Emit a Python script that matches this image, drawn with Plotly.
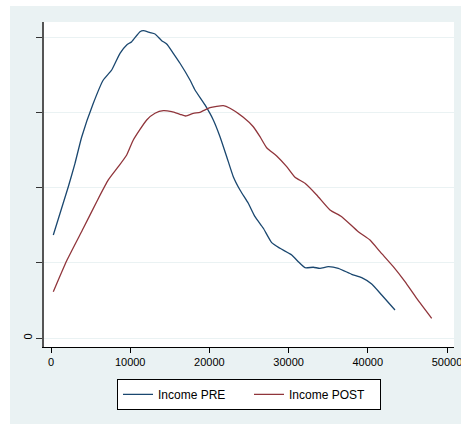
import plotly.graph_objects as go

# Kernel density estimates of income, before and after (density in units of 1e-5)
income_pre = [290, 2184, 3030, 3876, 5341, 6603, 7664, 8712, 9558, 10189,
              11237, 11654, 12500, 13131, 13977, 14608, 15442, 16288, 17550, 18182,
              19444, 20492, 21338, 22184, 23017, 23863, 24911, 25757, 26805, 27866,
              28914, 30391, 31225, 32070, 33118, 33964, 35012, 36275, 37967, 39229,
              40492, 41755, 43433]
density_pre = [1.373, 2.017, 2.329, 2.68, 3.129, 3.44, 3.573, 3.796, 3.907, 3.951,
               4.084, 4.097, 4.071, 4.053, 3.964, 3.92, 3.796, 3.663, 3.44, 3.307,
               3.107, 2.907, 2.684, 2.417, 2.151, 1.973, 1.796, 1.617, 1.463, 1.271,
               1.196, 1.107, 1.017, 0.937, 0.943, 0.929, 0.951, 0.929, 0.849, 0.804,
               0.72, 0.573, 0.373]

income_post = [290, 1982, 4078, 5770, 7235, 8497, 9558, 10391, 12083, 13131,
               14179, 15240, 16288, 17007, 17967, 18813, 20075, 21755, 22600, 24280,
               25543, 26389, 27235, 28497, 29760, 30808, 32070, 33548, 35227, 36704,
               38800, 40277, 41540, 43219, 44696, 46173, 48068]
density_post = [0.617, 1.03, 1.463, 1.817, 2.107, 2.284, 2.44, 2.64, 2.907, 2.996,
                3.031, 3.017, 2.983, 2.96, 2.996, 3.009, 3.071, 3.097, 3.063, 2.943,
                2.817, 2.684, 2.537, 2.427, 2.284, 2.143, 2.063, 1.907, 1.707, 1.617,
                1.417, 1.307, 1.151, 0.951, 0.751, 0.529, 0.263]

x_ticks = [0, 10000, 20000, 30000, 40000, 50000]
x_tick_labels = ["0", "10000", "20000", "30000", "40000", "50000"]
y_ticks = [0, 1, 2, 3, 4]
y_tick_labels = ["0", "", "", "", ""]

BG = "#EAF2F3"
FONT = "Liberation Sans, Arial, sans-serif"

fig = go.Figure()
fig.add_trace(go.Scatter(x=income_pre, y=density_pre, mode="lines", name="Income PRE",
                         line=dict(color="#1A476F", width=1.3, shape="spline", smoothing=0.5)))
fig.add_trace(go.Scatter(x=income_post, y=density_post, mode="lines", name="Income POST",
                         line=dict(color="#90353B", width=1.3, shape="spline", smoothing=0.5)))

fig.update_layout(
    width=461, height=424,
    margin=dict(l=44, r=7, t=22, b=77),
    paper_bgcolor=BG, plot_bgcolor="white",
    font=dict(family=FONT, size=11, color="#000"),
    showlegend=True,
    legend=dict(orientation="h", x=0.5, xanchor="center", y=-0.098, yanchor="top",
                bgcolor="white", bordercolor="#000", borderwidth=1,
                font=dict(size=12), entrywidth=86),
    xaxis=dict(range=[-884, 50884], tickvals=x_ticks, ticktext=x_tick_labels,
               showgrid=False, zeroline=False, showline=True, linecolor="#000",
               linewidth=1, ticks="outside", ticklen=5, tickcolor="#000",
               tickfont=dict(size=11), ticklabeloverflow="allow", automargin=False),
    yaxis=dict(range=[-0.12, 4.213], tickvals=y_ticks, ticktext=y_tick_labels,
               showgrid=True, gridcolor=BG, gridwidth=1, zeroline=False,
               showline=True, linecolor="#555", linewidth=1.5, ticks="outside",
               ticklen=6, tickcolor="#333", tickangle=-90, tickfont=dict(size=11),
               automargin=False),
    shapes=[
        # white page margin to the left and above the graph region
        dict(type="rect", xref="paper", yref="paper", x0=-0.2, x1=-0.0829, y0=-0.5, y1=1.2,
             fillcolor="white", line=dict(width=0), layer="above"),
        dict(type="rect", xref="paper", yref="paper", x0=-0.2, x1=1.2, y0=1.0492, y1=1.2,
             fillcolor="white", line=dict(width=0), layer="above"),
    ],
)

fig.write_html("out.html")
